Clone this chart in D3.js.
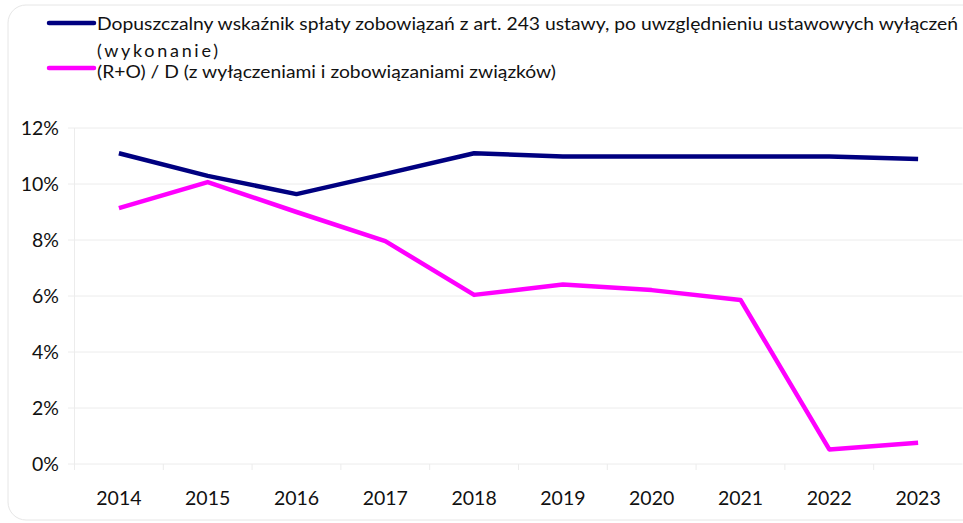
<!DOCTYPE html>
<html><head><meta charset="utf-8">
<script src="https://cdn.jsdelivr.net/npm/d3@7"></script>
<style>body{margin:0;background:#fff}svg{display:block}</style>
</head><body>
<svg id="c" width="963" height="523"></svg>
<script>
const years = ["2014","2015","2016","2017","2018","2019","2020","2021","2022","2023"];
const limitValues = [11.1, 10.29, 9.64, 10.36, 11.1, 10.98, 10.98, 10.98, 10.98, 10.89];
const ratioValues = [9.14, 10.07, 9.0, 7.96, 6.04, 6.41, 6.21, 5.86, 0.52, 0.76];
const yTicks = [0, 2, 4, 6, 8, 10, 12];
const seriesNames = ["Dopuszczalny wskaźnik spłaty zobowiązań z art. 243 ustawy, po uwzględnieniu ustawowych wyłączeń", "(wykonanie)", "(R+O) / D (z wyłączeniami i zobowiązaniami związków)"];

const svg = d3.select("#c");
const font = "Lato, 'Open Sans', sans-serif";
svg.append("rect").attr("x",8).attr("y",5).attr("width",1000).attr("height",515).attr("rx",18)
  .attr("fill","#fff").attr("stroke","#e6e6e6");

const x = d3.scaleBand().domain(years).range([74.5, 962.5]);
const y = d3.scaleLinear().domain([0,12]).range([464,128]);
const g = svg.append("g");

g.selectAll("line.grid").data(yTicks).join("line")
  .attr("x1",68).attr("x2",962.5).attr("y1",d=>y(d)).attr("y2",d=>y(d))
  .attr("stroke","#ececec").attr("stroke-width",1);
g.append("line").attr("x1",74.5).attr("x2",74.5).attr("y1",y(12)).attr("y2",470).attr("stroke","#ececec");
const bounds = years.map(d=>x(d)).slice(1);
g.selectAll("line.xt").data(bounds).join("line")
  .attr("x1",d=>d).attr("x2",d=>d).attr("y1",464).attr("y2",470).attr("stroke","#ececec");

g.selectAll("text.yl").data(yTicks).join("text")
  .attr("x",59).attr("y",d=>y(d)).attr("dy","0.35em").attr("text-anchor","end")
  .attr("font-family",font).attr("font-size",19.5).attr("fill","#111").text(d=>d+"%");
g.selectAll("text.xl").data(years).join("text")
  .attr("x",d=>x(d)+x.bandwidth()/2).attr("y",505).attr("text-anchor","middle")
  .attr("font-family",font).attr("font-size",19.5).attr("fill","#111").text(d=>d);

const line = d3.line().x((d,i)=>x(years[i])+x.bandwidth()/2).y(d=>y(d));
g.append("path").datum(limitValues).attr("d",line).attr("fill","none").attr("stroke","#000080").attr("stroke-width",4.5).attr("stroke-linejoin","round");
g.append("path").datum(ratioValues).attr("d",line).attr("fill","none").attr("stroke","#ff00ff").attr("stroke-width",4.5).attr("stroke-linejoin","round");

const leg = svg.append("g");
leg.append("line").attr("x1",49).attr("x2",94).attr("y1",23).attr("y2",23).attr("stroke","#000080").attr("stroke-width",4.5).attr("stroke-linecap","round");
leg.append("line").attr("x1",49).attr("x2",94).attr("y1",68).attr("y2",68).attr("stroke","#ff00ff").attr("stroke-width",4.5).attr("stroke-linecap","round");
const lt = [[seriesNames[0],97,30,861,"spacingAndGlyphs"],[seriesNames[1],97,57,121,"spacing"],[seriesNames[2],97,78,459,"spacingAndGlyphs"]];
leg.selectAll("text").data(lt).join("text")
  .attr("x",d=>d[1]).attr("y",d=>d[2])
  .attr("textLength",d=>d[3]).attr("lengthAdjust",d=>d[4])
  .attr("font-family",font).attr("font-size",18).attr("fill","#111").text(d=>d[0]);
</script>
</body></html>
